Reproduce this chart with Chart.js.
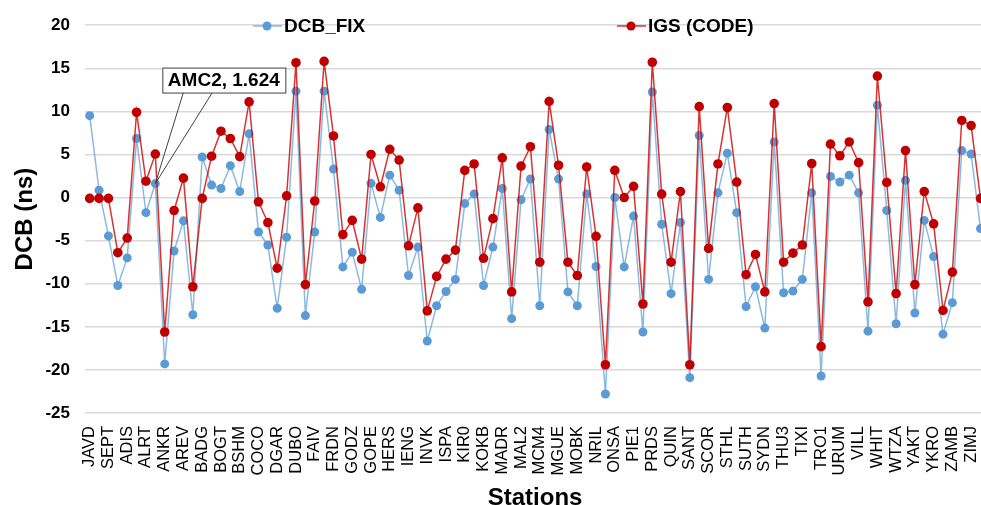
<!DOCTYPE html>
<html>
<head>
<meta charset="utf-8">
<script src="https://cdn.jsdelivr.net/npm/chart.js@4.4.0/dist/chart.umd.min.js"></script>
<style>
  html, body { margin: 0; padding: 0; background: #fff; }
  #frame { width: 981px; height: 505px; overflow: hidden; position: relative; }
  #box { width: 990px; height: 512px; position: absolute; left: 0; top: 0; }
</style>
</head>
<body>
<div id="frame"><div id="box"><canvas id="chart-1"></canvas></div></div>
<script>
const stations = [
    'JAVD', 'LEIC', 'SEPT', 'TRIM', 'ADIS', 'ALIC', 'ALRT', 'AMC2', 'ANKR', 'AREQ',
    'AREV', 'ASPA', 'BADG', 'BAKE', 'BOGT', 'BRAZ', 'BSHM', 'CHPI', 'COCO', 'DARW',
    'DGAR', 'DRAO', 'DUBO', 'FAA1', 'FAIV', 'FFMJ', 'FRDN', 'GLPS', 'GODZ', 'GOLD',
    'GOPE', 'GUAM', 'HERS', 'HOLB', 'IENG', 'IISC', 'INVK', 'IRKJ', 'ISPA', 'KARR',
    'KIR0', 'KIRU', 'KOKB', 'KOUR', 'MADR', 'MAG0', 'MAL2', 'MAS1', 'MCM4', 'MDVJ',
    'MGUE', 'MKEA', 'MOBK', 'NKLG', 'NRIL', 'NYAL', 'ONSA', 'PALM', 'PIE1', 'POL2',
    'PRDS', 'PTGG', 'QUIN', 'REUN', 'SANT', 'SCH2', 'SCOR', 'SGOC', 'STHL', 'STJO',
    'SUTH', 'SUTM', 'SYDN', 'THTG', 'THU3', 'TID1', 'TIXI', 'TOW2', 'TRO1', 'TSKB',
    'URUM', 'USUD', 'VILL', 'WARK', 'WHIT', 'WIND', 'WTZA', 'WUHN', 'YAKT', 'YELL',
    'YKRO', 'YSSK', 'ZAMB', 'ZECK', 'ZIMJ', 'ZIMM'
];

const dcbFix = [
    9.5, 0.85, -4.45, -10.2, -7.0, 6.85, -1.75, 1.624, -19.3, -6.2,
    -2.7, -13.6, 4.7, 1.45, 1.05, 3.7, 0.7, 7.4, -4.0, -5.5,
    -12.85, -4.6, 12.35, -13.7, -4.0, 12.35, 3.3, -8.05, -6.35, -10.65,
    1.65, -2.3, 2.6, 0.85, -9.05, -5.75, -16.65, -12.55, -10.9, -9.5,
    -0.7, 0.4, -10.2, -5.75, 1.05, -14.05, -0.25, 2.15, -12.55, 7.9,
    2.15, -10.95, -12.55, 0.4, -8.0, -22.8, 0.0, -8.05, -2.15, -15.6,
    12.25, -3.1, -11.15, -2.9, -20.9, 7.2, -9.5, 0.55, 5.15, -1.75,
    -12.65, -10.35, -15.15, 6.45, -11.05, -10.85, -9.5, 0.55, -20.7, 2.45,
    1.8, 2.6, 0.55, -15.5, 10.7, -1.5, -14.65, 2.0, -13.4, -2.65,
    -6.85, -15.85, -12.2, 5.45, 5.05, -3.6
];

const igsCode = [
    -0.1, -0.1, -0.1, -6.4, -4.7, 9.9, 1.9, 5.05, -15.6, -1.5,
    2.25, -10.35, -0.1, 4.8, 7.7, 6.85, 4.75, 11.1, -0.5, -2.9,
    -8.2, 0.2, 15.65, -10.1, -0.4, 15.8, 7.15, -4.3, -2.65, -7.15,
    5.0, 1.25, 5.6, 4.35, -5.6, -1.2, -13.15, -9.15, -7.15, -6.1,
    3.15, 3.9, -7.05, -2.45, 4.6, -10.95, 3.65, 5.9, -7.5, 11.15,
    3.75, -7.5, -9.05, 3.55, -4.5, -19.4, 3.15, 0.0, 1.3, -12.35,
    15.7, 0.4, -7.5, 0.7, -19.4, 10.55, -5.9, 3.9, 10.45, 1.8,
    -8.95, -6.6, -10.95, 10.9, -7.5, -6.45, -5.5, 3.95, -17.3, 6.2,
    4.85, 6.45, 4.05, -12.1, 14.1, 1.75, -11.15, 5.45, -10.1, 0.7,
    -3.05, -13.1, -8.65, 8.95, 8.35, -0.1
];

const yTicks = [-25, -20, -15, -10, -5, 0, 5, 10, 15, 20];

const calloutIndex = 7;

// Excel-style legend drawn inside the plot
const legendPlugin = {
    id: 'topLegend',
    afterDraw(chart) {
        const ctx = chart.ctx;
        const items = [
            { text: 'DCB_FIX', x: 253, line: 'rgba(91,155,213,0.7)', dot: '#5B9BD5' },
            { text: 'IGS (CODE)', x: 617, line: 'rgba(204,0,0,0.8)', dot: '#C00000' },
        ];
        const y = 26;
        ctx.save();
        items.forEach(it => {
            ctx.strokeStyle = it.line;
            ctx.lineWidth = 1.5;
            ctx.beginPath();
            ctx.moveTo(it.x, y);
            ctx.lineTo(it.x + 29, y);
            ctx.stroke();
            ctx.fillStyle = it.dot;
            ctx.beginPath();
            ctx.arc(it.x + 14, y, 4.5, 0, Math.PI * 2);
            ctx.fill();
            ctx.fillStyle = '#000';
            ctx.font = 'bold 19px "Liberation Sans", Arial, sans-serif';
            ctx.textBaseline = 'middle';
            ctx.textAlign = 'left';
            ctx.fillText(it.text, it.x + 31, y + 1);
        });
        ctx.restore();
    }
};

// data callout for AMC2
const calloutPlugin = {
    id: 'callout',
    afterDatasetsDraw(chart) {
        const ctx = chart.ctx;
        const pt = chart.getDatasetMeta(0).data[calloutIndex];
        const px = pt.x, py = pt.y;
        const bx = px + 7, by = py - 116, bw = 123, bh = 25;
        ctx.save();
        ctx.strokeStyle = '#404040';
        ctx.lineWidth = 1;
        ctx.beginPath();
        ctx.moveTo(bx + 21, by + bh);
        ctx.lineTo(px, py);
        ctx.lineTo(bx + 50, by + bh);
        ctx.stroke();
        ctx.fillStyle = '#fff';
        ctx.fillRect(bx, by, bw, bh);
        ctx.strokeRect(bx + 0.5, by + 0.5, bw, bh);
        ctx.fillStyle = '#000';
        ctx.font = 'bold 19px "Liberation Sans", Arial, sans-serif';
        ctx.textAlign = 'center';
        ctx.textBaseline = 'middle';
        ctx.fillText(stations[calloutIndex] + ', ' + dcbFix[calloutIndex], bx + bw / 2, by + bh / 2 + 1);
        ctx.restore();
    }
};

const ctx1 = document.getElementById('chart-1').getContext('2d');
const myChart = new Chart(ctx1, {
    type: 'line',
    data: {
        labels: stations,
        datasets: [
            {
                label: 'DCB_FIX',
                data: dcbFix,
                borderColor: 'rgba(91,155,213,0.7)',
                borderWidth: 1.5,
                backgroundColor: '#5B9BD5',
                pointBackgroundColor: '#5B9BD5',
                pointBorderWidth: 0,
                pointRadius: 4.5,
                tension: 0,
                order: 2,
            },
            {
                label: 'IGS (CODE)',
                data: igsCode,
                borderColor: 'rgba(204,0,0,0.8)',
                borderWidth: 1.5,
                backgroundColor: '#C00000',
                pointBackgroundColor: '#C00000',
                pointBorderWidth: 0,
                pointRadius: 4.8,
                tension: 0,
                order: 1,
            },
        ],
    },
    options: {
        responsive: true,
        maintainAspectRatio: false,
        animation: false,
        layout: { padding: { top: 20, right: 4, left: 0, bottom: 0 } },
        plugins: {
            legend: { display: false },
            tooltip: { enabled: false },
        },
        scales: {
            x: {
                offset: true,
                grid: { display: false, drawTicks: false },
                border: { display: false },
                ticks: {
                    autoSkip: false,
                    maxRotation: 90,
                    minRotation: 90,
                    padding: 13,
                    color: '#000',
                    font: { family: '"Liberation Sans", Arial, sans-serif', size: 16.5 },
                    callback: function (val, index) {
                        return index % 2 === 0 ? this.getLabelForValue(val) : '';
                    },
                },
                title: {
                    display: true,
                    text: 'Stations',
                    color: '#000',
                    padding: { top: 0, bottom: 2 },
                    font: { family: '"Liberation Sans", Arial, sans-serif', size: 24, weight: 'bold', lineHeight: 1 },
                },
                afterFit(scale) {
                    scale.height = 99;
                    scale.paddingLeft = 0;
                    scale.paddingRight = 0;
                },
            },
            y: {
                min: -25,
                max: 20,
                afterBuildTicks(scale) {
                    scale.ticks = yTicks.map(v => ({ value: v }));
                },
                grid: { color: '#D9D9D9', lineWidth: 1.5, drawTicks: false },
                border: { display: false },
                ticks: {
                    padding: 15,
                    color: '#000',
                    font: { family: '"Liberation Sans", Arial, sans-serif', size: 17, weight: 'bold' },
                },
                title: {
                    display: true,
                    text: 'DCB (ns)',
                    color: '#000',
                    padding: { top: 13, bottom: 0 },
                    font: { family: '"Liberation Sans", Arial, sans-serif', size: 24, weight: 'bold', lineHeight: 1 },
                },
                afterFit(scale) {
                    scale.width = 85;
                },
            },
        },
    },
    plugins: [legendPlugin, calloutPlugin],
});
</script>
</body>
</html>
